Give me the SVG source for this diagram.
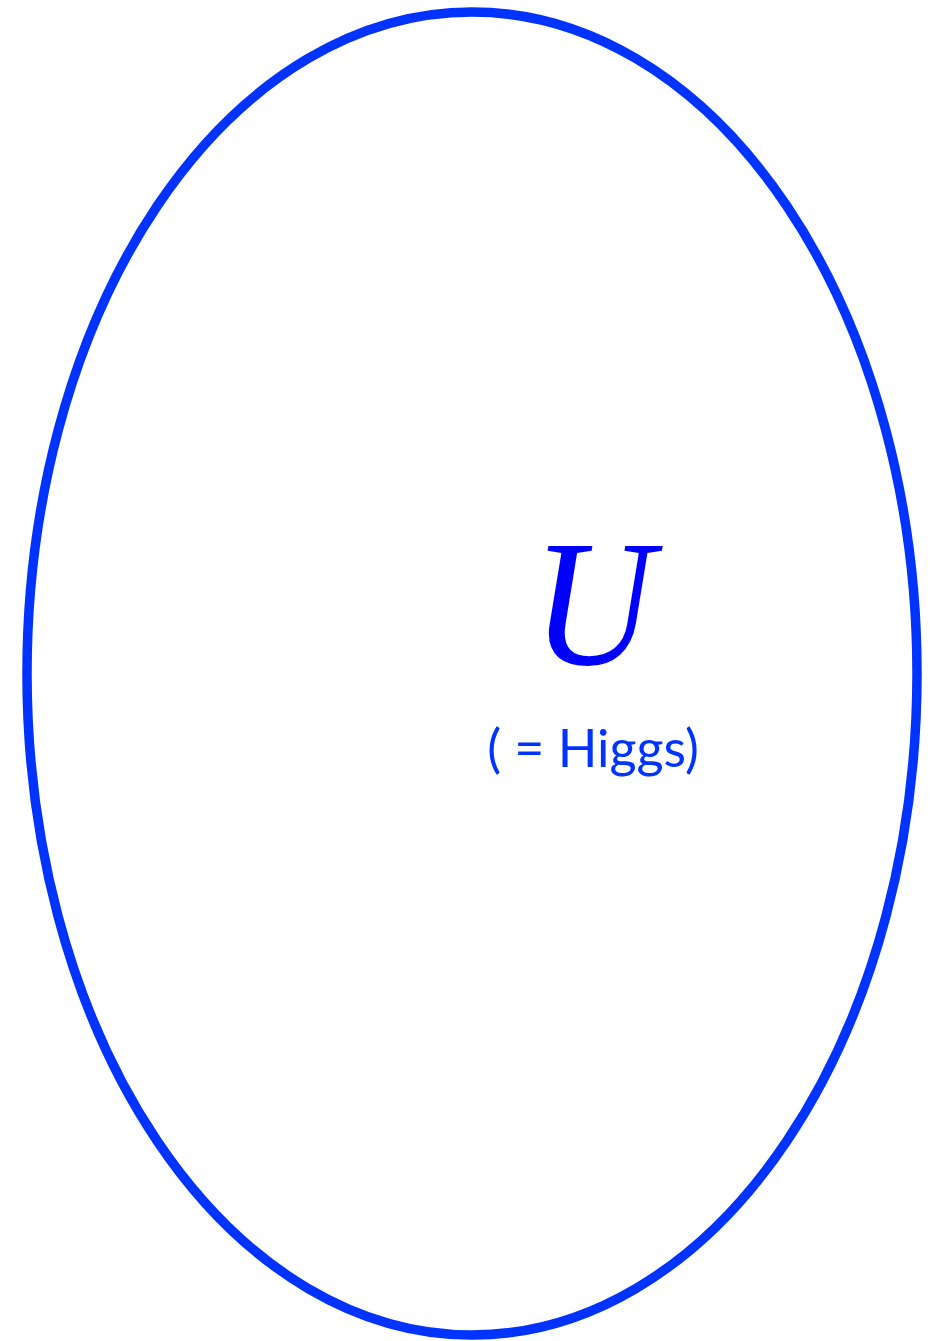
<svg xmlns="http://www.w3.org/2000/svg" width="930" height="1341" viewBox="0 0 930 1341">
<style>
.outline{fill:none;stroke:#0033ff;stroke-width:9.5}
.sym{font-family:"Liberation Serif",serif;font-style:italic;font-weight:normal;font-size:168px;fill:#0000ff}
.lbl{font-family:Lato,"Open Sans",sans-serif;font-size:52px;fill:#0033ff}
</style>
<rect width="930" height="1341" fill="#ffffff"/>
<g id="higgs">
<ellipse class="outline" cx="472" cy="673.5" rx="445" ry="661.5"/>
<text class="sym" x="0" y="0" text-anchor="middle" transform="translate(593 664) scale(1 1.07)">U</text>
<text class="lbl" x="593" y="767" text-anchor="middle">( = Higgs)</text>
</g>
</svg>
